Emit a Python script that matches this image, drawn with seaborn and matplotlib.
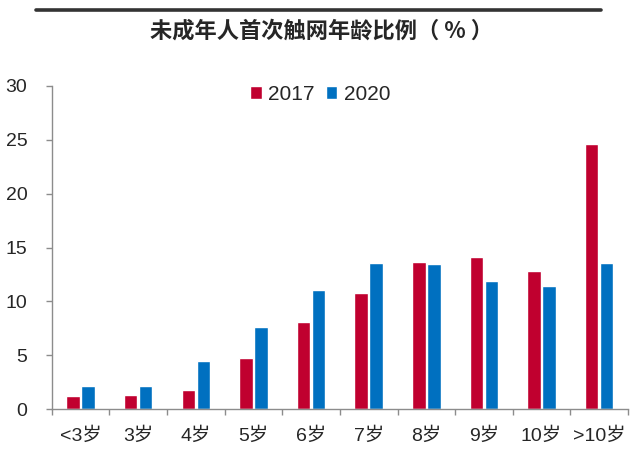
import pandas as pd
import numpy as np
import matplotlib
matplotlib.use("Agg")
import matplotlib.pyplot as plt
import seaborn as sns

ages = ['<3岁', '3岁', '4岁', '5岁', '6岁', '7岁', '8岁', '9岁', '10岁', '>10岁']
vals_2017 = [1.2, 1.3, 1.8, 4.8, 8.1, 10.8, 13.7, 14.1, 12.8, 24.6]
vals_2020 = [2.2, 2.2, 4.5, 7.6, 11.1, 13.6, 13.5, 11.9, 11.4, 13.6]
years = ['2017', '2020']
colors = ['#C0002F', '#0070C0']

df = pd.DataFrame({
    'age': ages * 2,
    'year': [years[0]] * len(ages) + [years[1]] * len(ages),
    'value': vals_2017 + vals_2020,
})

sns.set_style('white')
plt.rcParams['font.family'] = ['Liberation Sans', 'Noto Sans CJK SC', 'DejaVu Sans']

fig = plt.figure(figsize=(6.4, 4.55), dpi=100)
ax = fig.add_axes([0.0808, 0.1004, 0.9005, 0.7112])

sns.barplot(data=df, x='age', y='value', hue='year', palette=colors,
            width=0.52, gap=0.1, ax=ax, saturation=1)

ax.set_ylim(0, 30)
ax.set_xlim(-0.5, len(ages) - 0.5)
ax.set_yticks(range(0, 31, 5))
ax.set_xlabel('')
ax.set_ylabel('')

for s in ['top', 'right']:
    ax.spines[s].set_visible(False)
for s in ['left', 'bottom']:
    ax.spines[s].set_color('#8c8c8c')
    ax.spines[s].set_linewidth(1.0)

ax.tick_params(axis='y', direction='out', length=4.5, width=1, color='#8c8c8c',
               labelsize=14, pad=13, left=True)
ax.tick_params(axis='x', which='major', length=0, labelsize=14, pad=13)
ax.set_xticks(np.arange(-0.5, len(ages), 1), minor=True)
ax.tick_params(axis='x', which='minor', direction='out', length=4.5, width=1,
               color='#8c8c8c', bottom=True)

ax.legend(handles=ax.get_legend_handles_labels()[0], labels=years,
          loc='center', bbox_to_anchor=(0.466, 0.974), ncol=2, frameon=False,
          fontsize=15, handlelength=0.55, handleheight=0.55,
          handletextpad=0.3, columnspacing=0.55)

fig.add_artist(plt.Line2D([0.057, 0.939], [0.977, 0.977], color='#333333',
                          linewidth=2.6, transform=fig.transFigure))
fig.text(0.503, 0.931, '未成年人首次触网年龄比例（ % ）', ha='center', va='center',
         fontsize=16, fontweight='bold', family=['Noto Sans CJK SC', 'DejaVu Sans'])

fig.savefig('out.png', dpi=100)
